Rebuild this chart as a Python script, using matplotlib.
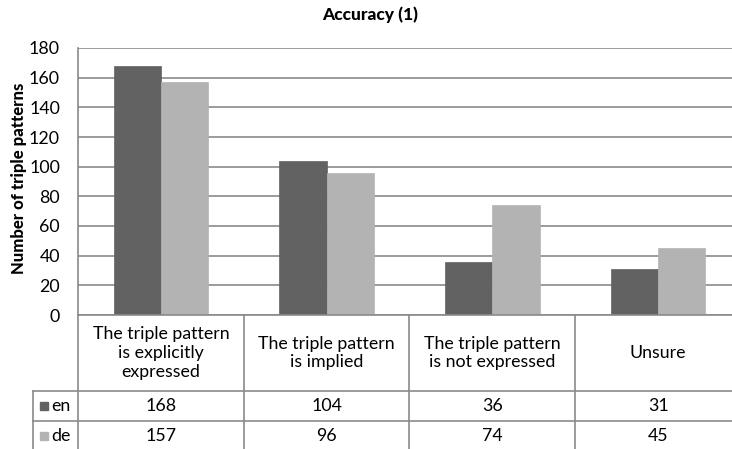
import numpy as np
import matplotlib.pyplot as plt
from matplotlib.patches import Rectangle

plt.rcParams['font.family'] = ['Lato', 'DejaVu Sans']

# chart data
categories = ["The triple pattern\nis explicitly\nexpressed",
              "The triple pattern\nis implied",
              "The triple pattern\nis not expressed",
              "Unsure"]
series = ["en", "de"]
en_counts = [168, 104, 36, 31]
de_counts = [157, 96, 74, 45]
colors = ["#626262", "#b3b3b3"]

W, H = 732, 449
fig = plt.figure(figsize=(W / 100, H / 100), dpi=100)


def px_box(left, top, right, bottom):
    return [left / W, 1 - bottom / H, (right - left) / W, (bottom - top) / H]


line_col = "#8a8a8a"
fs = 12.8

# bar area
ax = fig.add_axes(px_box(78, 48, 741, 315))
x = np.arange(len(categories)) + 0.5
bw = 0.285
for k, (vals, col) in enumerate(zip([en_counts, de_counts], colors)):
    ax.bar(x + (k - 0.5) * bw, vals, bw, color=col, edgecolor=col, linewidth=0.5)
ax.set_xlim(0, len(categories))
ax.set_ylim(0, 180)
ax.set_yticks(range(0, 181, 20))
ax.set_xticks([])
ax.yaxis.grid(True, color=line_col, linewidth=1.2)
ax.set_axisbelow(True)
for s in ["top", "right"]:
    ax.spines[s].set_visible(False)
for s in ["left", "bottom"]:
    ax.spines[s].set_color(line_col)
    ax.spines[s].set_linewidth(1.2)
ax.tick_params(axis="y", length=0, pad=13, labelsize=fs)
ax.set_ylabel("Number of triple patterns", fontsize=12, fontweight="black")
ax.yaxis.set_label_coords(-51 / 663, 0.513)

fig.text(370 / W, 1 - 15 / H, "Accuracy (1)", ha="center", va="center",
         fontsize=12.5, fontweight="black")

# data table under the bars
tab = fig.add_axes(px_box(78, 315, 741, 451))
tab.set_xlim(0, len(categories))
tab.set_ylim(136, 0)
tab.axis("off")
leg_x = -45 / 165.75
row_y = [0, 76, 106, 136]
lk = dict(color=line_col, linewidth=1.2, clip_on=False)
for i in range(len(categories) + 1):
    tab.plot([i, i], [0, 136], **lk)
tab.plot([leg_x, leg_x], [76, 136], **lk)
for yy in row_y[1:3]:
    tab.plot([leg_x, len(categories)], [yy, yy], **lk)

for i, cat in enumerate(categories):
    tab.text(x[i], 38, cat, ha="center", va="center", fontsize=fs, linespacing=1.2)
    for r, vals in enumerate([en_counts, de_counts]):
        tab.text(x[i], (row_y[r + 1] + row_y[r + 2]) / 2, str(vals[i]),
                 ha="center", va="center", fontsize=fs)

for r, (name, col) in enumerate(zip(series, colors)):
    yc = (row_y[r + 1] + row_y[r + 2]) / 2
    tab.add_patch(Rectangle((-38 / 165.75, yc - 4), 8 / 165.75, 8, color=col, clip_on=False))
    tab.text(-27 / 165.75, yc, name, ha="left", va="center", fontsize=fs, clip_on=False)

fig.savefig("out.png", dpi=100)
